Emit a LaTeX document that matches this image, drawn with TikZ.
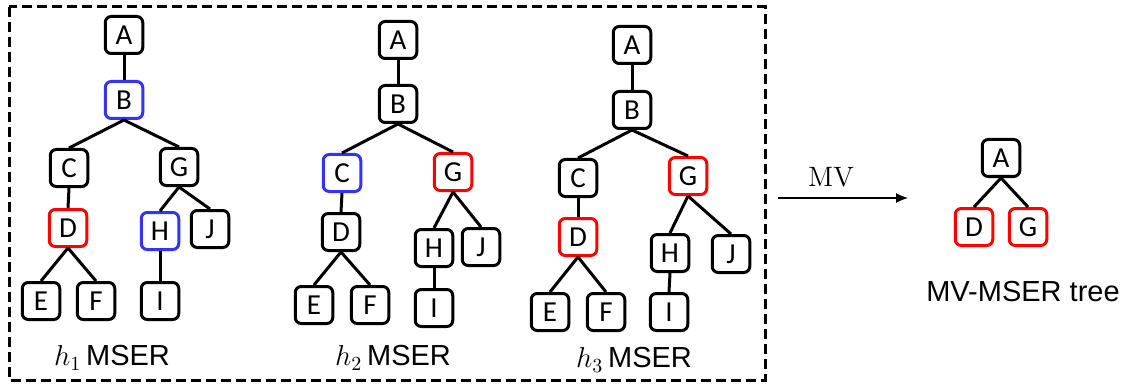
\documentclass[tikz,border=0pt]{standalone}
\usepackage{fontspec}
\newfontfamily\boxfont{Carlito}
\newfontfamily\lblfont{Liberation Sans}
\usetikzlibrary{arrows.meta}
\definecolor{nblue}{RGB}{51,51,255}
\definecolor{nred}{RGB}{255,0,0}
\begin{document}
\begin{tikzpicture}[x=0.5pt,y=-0.5pt,
  nd/.style={draw=black, line width=1.5pt, rounded corners=3pt, minimum width=18.75pt, minimum height=18.5pt, inner sep=0pt, font=\boxfont\fontsize{14.5}{14.5}\selectfont, fill=white},
  bl/.style={draw=nblue},
  rd/.style={draw=nred},
  edge/.style={line width=1.5pt},
  lbl/.style={font=\lblfont\fontsize{14.5}{16}\selectfont}]
\useasboundingbox (0,0) rectangle (1130,385);
\draw[line width=1.5pt, dash pattern=on 5pt off 2.5pt] (9,7) rectangle (765,380);

% tree 1
\node[nd] (a1) at (124,35) {A};
\node[nd,bl] (b1) at (124,100) {B};
\node[nd] (c1) at (69,168) {C};
\node[nd] (g1) at (179,167) {G};
\node[nd,rd] (d1) at (68,228) {D};
\node[nd,bl] (h1) at (160,231) {H};
\node[nd] (j1) at (210,229) {J};
\node[nd] (e1) at (41,301) {E};
\node[nd] (f1) at (96,301) {F};
\node[nd] (i1) at (160,301) {I};
\draw[edge] (a1.south) -- (b1.north);
\draw[edge] (b1.south) -- (c1.north);
\draw[edge] (b1.south) -- (g1.north);
\draw[edge] (c1.south) -- (d1.north);
\draw[edge] (d1.south) -- (e1.north);
\draw[edge] (d1.south) -- (f1.north);
\draw[edge] (g1.south) -- (h1.north);
\draw[edge] (g1.south) -- (j1.north);
\draw[edge] (h1.south) -- (i1.north);
\node[lbl] (l1) at (112,358) {$h_1$\,MSER};

% tree 2
\node[nd] (a2) at (398,40) {A};
\node[nd] (b2) at (398,104) {B};
\node[nd,bl] (c2) at (342,173) {C};
\node[nd,rd] (g2) at (453,172) {G};
\node[nd] (d2) at (341,232) {D};
\node[nd] (h2) at (434,248) {H};
\node[nd] (j2) at (481,247) {J};
\node[nd] (e2) at (314,305) {E};
\node[nd] (f2) at (370,305) {F};
\node[nd] (i2) at (434,308) {I};
\draw[edge] (a2.south) -- (b2.north);
\draw[edge] (b2.south) -- (c2.north);
\draw[edge] (b2.south) -- (g2.north);
\draw[edge] (c2.south) -- (d2.north);
\draw[edge] (d2.south) -- (e2.north);
\draw[edge] (d2.south) -- (f2.north);
\draw[edge] (g2.south) -- (h2.north);
\draw[edge] (g2.south) -- (j2.north);
\draw[edge] (h2.south) -- (i2.north);
\node[lbl] (l2) at (393,358) {$h_2$\,MSER};

% tree 3
\node[nd] (a3) at (632,45) {A};
\node[nd] (b3) at (632,110) {B};
\node[nd] (c3) at (578,178) {C};
\node[nd,rd] (g3) at (688,176) {G};
\node[nd,rd] (d3) at (578,237) {D};
\node[nd] (h3) at (670,253) {H};
\node[nd] (j3) at (731,254) {J};
\node[nd] (e3) at (550,312) {E};
\node[nd] (f3) at (606,312) {F};
\node[nd] (i3) at (669,312) {I};
\draw[edge] (a3.south) -- (b3.north);
\draw[edge] (b3.south) -- (c3.north);
\draw[edge] (b3.south) -- (g3.north);
\draw[edge] (c3.south) -- (d3.north);
\draw[edge] (d3.south) -- (e3.north);
\draw[edge] (d3.south) -- (f3.north);
\draw[edge] (g3.south) -- (h3.north);
\draw[edge] (g3.south) -- (j3.north);
\draw[edge] (h3.south) -- (i3.north);
\node[lbl] (l3) at (634,360) {$h_3$\,MSER};

% arrow
\coordinate (s0) at (778,198);
\coordinate (s1) at (908,198);
\draw[line width=0.6pt, -{Latex[length=6pt,width=5pt]}] (s0) -- (s1);
\node[font=\fontsize{14}{16}\selectfont] (mv) at (831,177) {MV};

% result tree
\node[nd] (ra) at (1001,158) {A};
\node[nd,rd] (rd) at (974,227) {D};
\node[nd,rd] (rg) at (1028,227) {G};
\draw[edge] (ra.south) -- (rd.north);
\draw[edge] (ra.south) -- (rg.north);
\node[lbl] (rl) at (1023,292) {MV-MSER tree};
\end{tikzpicture}
\end{document}
